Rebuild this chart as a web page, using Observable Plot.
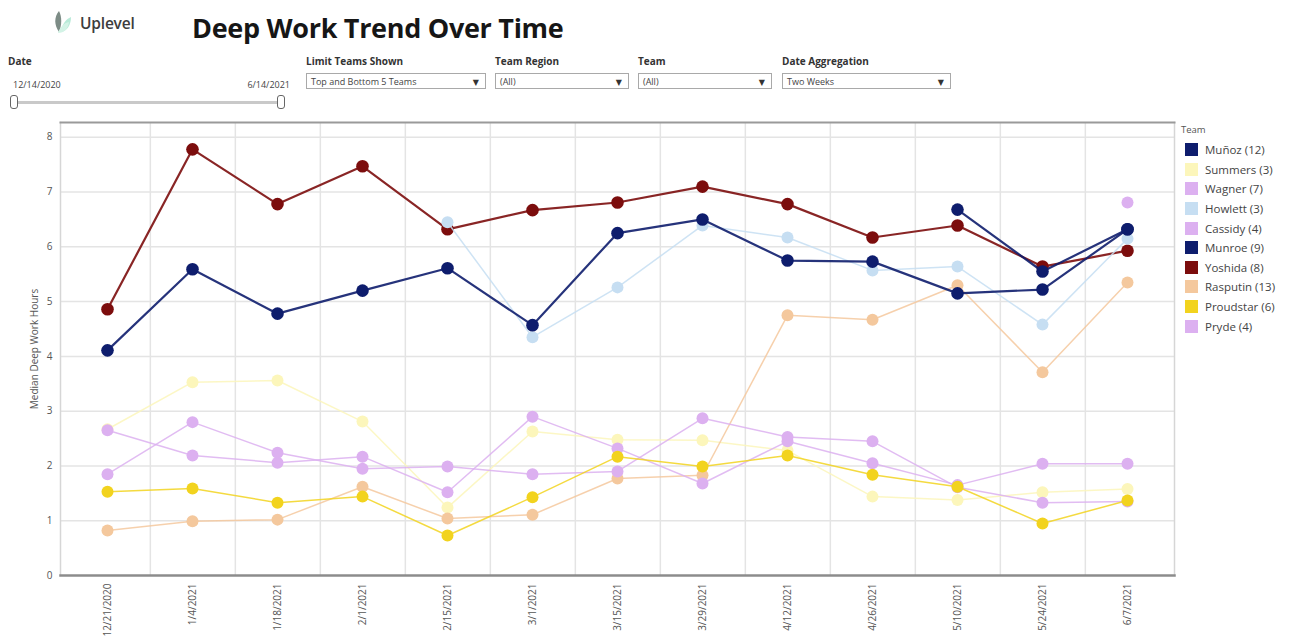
<!DOCTYPE html>
<html>
<head>
<meta charset="utf-8">
<script src="https://cdn.jsdelivr.net/npm/d3@7"></script>
<script src="https://cdn.jsdelivr.net/npm/@observablehq/plot@0.6"></script>
<style>
  html, body { margin: 0; padding: 0; background: #fff; }
  body { font-family: "Open Sans", "DejaVu Sans", sans-serif; color: #333; }
  #wrap { position: relative; width: 1295px; height: 644px; overflow: hidden; }
  #chart { position: absolute; left: 0; top: 0; }
  .abs { position: absolute; white-space: nowrap; }
  .flabel { font-size: 10px; font-weight: 700; color: #333; }
  .box { position: absolute; height: 16px; border: 1px solid #a9a9a9; background: #fff;
         font-size: 9px; color: #444; line-height: 16px; padding-left: 4px; box-sizing: border-box; }
  .box .arr { position: absolute; right: 6px; top: 0; font-size: 8px; color: #333; }
  #legend { position: absolute; left: 1181px; top: 123px; font-size: 11.5px; color: #444; }
  #legend .ttl { font-size: 9.5px; color: #555; margin-bottom: 4px; }
  #legend .row { height: 19.6px; display: flex; align-items: center; }
  #legend .sw { width: 13px; height: 13px; margin-left: 4px; margin-right: 7px; }
</style>
</head>
<body>
<div id="wrap">
  <div id="chart"></div>

  <!-- header -->
  <svg class="abs" style="left:50px;top:9px" width="22" height="26" viewBox="0 0 22 26">
    <path d="M9 2 C4 8 4 16 9 23 C12 16 12 8 9 2 Z" fill="#7d8c86"/>
    <path d="M11 23 C12 15 16 10 21 8 C21 16 17 22 11 23 Z" fill="#b8ead8"/>
    <path d="M8 24 C10 18 14 14 19 13 C18 20 14 24 8 24 Z" fill="#d3f3e6"/>
  </svg>
  <div class="abs" style="left:80px;top:12px;font-size:15.5px;color:#3d3d3d;font-weight:600;letter-spacing:-0.2px">Uplevel</div>
  <div class="abs" id="title" style="left:192px;top:9px;font-size:27px;font-weight:700;color:#161616;letter-spacing:-0.3px">Deep Work Trend Over Time</div>

  <div class="abs flabel" style="left:8px;top:54px">Date</div>
  <div class="abs" style="left:13px;top:78px;font-size:9px;color:#444">12/14/2020</div>
  <div class="abs" style="left:230px;width:60px;text-align:right;top:78px;font-size:9px;color:#444">6/14/2021</div>
  <div class="abs" style="left:16px;top:101px;width:264px;height:3px;background:#c9c9c9"></div>
  <div class="abs" style="left:10px;top:95px;width:6px;height:12px;border:1px solid #666;border-radius:3px;background:#fff"></div>
  <div class="abs" style="left:277px;top:95px;width:6px;height:12px;border:1px solid #666;border-radius:3px;background:#fff"></div>

  <div class="abs flabel" style="left:306px;top:54px">Limit Teams Shown</div>
  <div class="box" style="left:306px;top:73px;width:180px">Top and Bottom 5 Teams<span class="arr">▼</span></div>
  <div class="abs flabel" style="left:495px;top:54px">Team Region</div>
  <div class="box" style="left:495px;top:73px;width:134px">(All)<span class="arr">▼</span></div>
  <div class="abs flabel" style="left:638px;top:54px">Team</div>
  <div class="box" style="left:638px;top:73px;width:134px">(All)<span class="arr">▼</span></div>
  <div class="abs flabel" style="left:782px;top:54px">Date Aggregation</div>
  <div class="box" style="left:782px;top:73px;width:169px">Two Weeks<span class="arr">▼</span></div>

  <div id="legend"></div>
</div>

<script>
// ---------- data ----------
const dates = ["12/21/2020","1/4/2021","1/18/2021","2/1/2021","2/15/2021","3/1/2021","3/15/2021",
               "3/29/2021","4/12/2021","4/26/2021","5/10/2021","5/24/2021","6/7/2021"];

const teams  = ["Muñoz (12)","Summers (3)","Wagner (7)","Howlett (3)","Cassidy (4)",
                "Munroe (9)","Yoshida (8)","Rasputin (13)","Proudstar (6)","Pryde (4)"];
const colors = ["#0e1d6d","#fcf6bb","#dcb0f0","#c6def2","#dcb0f0",
                "#0e1d6d","#7c0d0d","#f4c89d","#f2d31e","#dcb0f0"];

const munoz     = [4.11, 5.59, 4.78, 5.20, 5.61, 4.57, 6.25, 6.50, 5.75, 5.73, 5.15, 5.22, 6.32];
const summers   = [2.67, 3.53, 3.56, 2.81, 1.24, 2.63, 2.48, 2.47, 2.28, 1.44, 1.38, 1.52, 1.58];
const wagner    = [2.65, 2.19, 2.06, 2.17, 1.52, 2.90, 2.32, 1.68, 2.45, 2.05, 1.65, 2.04, 2.04];
const howlett   = [null, null, null, null, 6.45, 4.35, 5.26, 6.39, 6.17, 5.57, 5.64, 4.58, 6.15];
const cassidy   = [1.85, 2.80, 2.24, 1.95, 1.99, 1.85, 1.90, 2.87, 2.53, 2.45, 1.61, 1.33, 1.35];
const munroe    = [null, null, null, null, null, null, null, null, null, null, 6.68, 5.55, 6.32];
const yoshida   = [4.86, 7.78, 6.78, 7.47, 6.32, 6.67, 6.81, 7.10, 6.78, 6.17, 6.39, 5.64, 5.93];
const rasputin  = [0.82, 0.99, 1.02, 1.62, 1.04, 1.11, 1.77, 1.83, 4.75, 4.67, 5.30, 3.71, 5.35];
const proudstar = [1.53, 1.59, 1.33, 1.44, 0.73, 1.43, 2.17, 1.99, 2.19, 1.84, 1.62, 0.95, 1.37];
const pryde     = [null, null, null, null, null, null, null, null, null, null, null, null, 6.81];

const yTicks = [0, 1, 2, 3, 4, 5, 6, 7, 8];

// ---------- build table ----------
const seriesValues = [munoz, summers, wagner, howlett, cassidy, munroe, yoshida, rasputin, proudstar, pryde];
const data = [];
teams.forEach((t, i) => seriesValues[i].forEach((v, j) => {
  if (v != null) data.push({team: t, date: dates[j], value: v});
}));

// drawing order: light series first, dark series on top
const drawOrder = ["Summers (3)","Rasputin (13)","Wagner (7)","Cassidy (4)",
                   "Pryde (4)","Proudstar (6)","Yoshida (8)","Howlett (3)","Munroe (9)","Muñoz (12)"];
const dark = new Set(["Yoshida (8)","Munroe (9)","Muñoz (12)"]);

// ---------- layout ----------
const W = 1295, H = 644;
const mL = 60, mR = 121, mT = 122, mB = 69;
const step = (W - mL - mR) / dates.length;

const marks = [
  Plot.ruleY(yTicks.filter(d => d > 0), {stroke: "#e4e4e4", strokeWidth: 1.5}),
  Plot.ruleX(dates.slice(0, -1), {stroke: "#e4e4e4", strokeWidth: 1.5, dx: step / 2}),
  Plot.frame({anchor: "left", stroke: "#d6d6d6", strokeWidth: 1.5}),
  Plot.frame({anchor: "right", stroke: "#d6d6d6", strokeWidth: 1.5}),
  Plot.frame({anchor: "top", stroke: "#9a9a9a", strokeWidth: 2}),
  Plot.frame({anchor: "bottom", stroke: "#8c8c8c", strokeWidth: 2.5}),
];
for (const t of drawOrder) {
  const d = data.filter(r => r.team === t);
  marks.push(Plot.line(d, {x: "date", y: "value", stroke: "team",
    strokeWidth: dark.has(t) ? 2.2 : 1.5, strokeOpacity: dark.has(t) ? 0.9 : 0.85}));
  marks.push(Plot.dot(d, {x: "date", y: "value", fill: "team", r: dark.has(t) ? 6.3 : 6}));
}

const chart = Plot.plot({
  width: W, height: H,
  marginLeft: mL, marginRight: mR, marginTop: mT, marginBottom: mB,
  style: {fontFamily: "'Open Sans', sans-serif", fontSize: "10px", color: "#555", background: "transparent"},
  x: {type: "point", domain: dates, padding: 0.5, tickRotate: -90, tickSize: 0, tickPadding: 8, label: null},
  y: {domain: [0, 8.27], ticks: yTicks, tickSize: 0, tickPadding: 8, tickFormat: d3.format("d"),
      label: "Median Deep Work Hours", labelAnchor: "center", labelOffset: 30, labelArrow: false},
  color: {domain: teams, range: colors},
  marks
});
document.getElementById("chart").appendChild(chart);

// ---------- legend ----------
const leg = document.getElementById("legend");
leg.innerHTML = '<div class="ttl">Team</div>' + teams.map((t, i) =>
  `<div class="row"><div class="sw" style="background:${colors[i]}"></div><span>${t}</span></div>`).join("");
</script>
</body>
</html>
